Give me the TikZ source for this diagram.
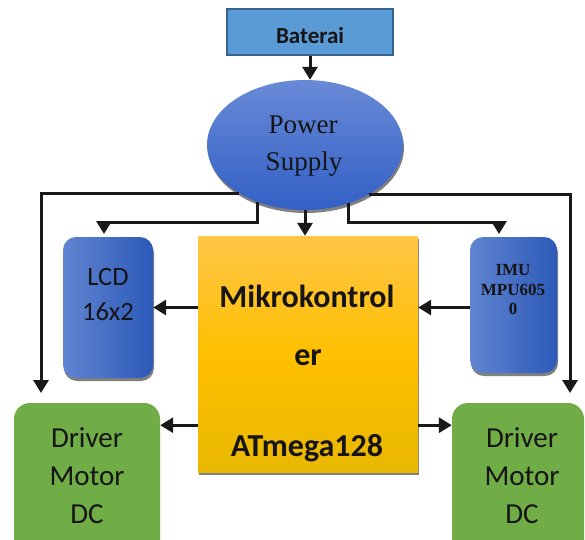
\documentclass[tikz,border=0pt]{standalone}
\usepackage{fontspec}
\setmainfont{Carlito}
\newfontfamily\timesf{Liberation Serif}
\usetikzlibrary{arrows.meta,shapes.geometric}
\definecolor{txt}{RGB}{22,20,22}
\definecolor{batfill}{RGB}{91,155,213}
\definecolor{batdraw}{RGB}{50,100,140}
\definecolor{psTop}{RGB}{105,138,215}
\definecolor{psBot}{RGB}{50,96,196}
\definecolor{bxL}{RGB}{96,132,208}
\definecolor{bxR}{RGB}{44,90,184}
\definecolor{mcTop}{RGB}{255,198,72}
\definecolor{mcMid}{RGB}{255,192,0}
\definecolor{mcBot}{RGB}{232,184,0}
\definecolor{drv}{RGB}{112,173,71}
\definecolor{shd}{RGB}{128,128,128}
\tikzset{
  shadowed/.style={preaction={fill=shd, transform canvas={xshift=1pt,yshift=-3pt}}},
  arr/.style={line width=3pt, draw=black!90, -{Triangle[length=13pt,width=15pt]}},
  lbl/.style={anchor=base, text=txt, inner sep=0pt},
  sidebox/.style={shadowed, rectangle, rounded corners=13pt, left color=bxL, right color=bxR, inner sep=0pt},
  drvbox/.style={rectangle, rounded corners=16pt, fill=drv, inner sep=0pt},
}
\begin{document}
\begin{tikzpicture}[x=1pt,y=-1pt]
\useasboundingbox (0,0) rectangle (585,539);
\clip (0,0) rectangle (585,539);
% nodes
\node[rectangle, fill=batfill, draw=batdraw, line width=1.5pt, minimum width=166pt, minimum height=46pt, inner sep=0pt] (bat) at (310,32) {};
\node[lbl, font=\bfseries\fontsize{23}{26}\selectfont] (batt) at (310,43) {Baterai};
\node[shadowed, ellipse, top color=psTop, bottom color=psBot, minimum width=196pt, minimum height=130pt, inner sep=0pt] (ps) at (305,145) {};
\node[lbl, font=\timesf\fontsize{27}{30}\selectfont] (pst1) at (303,133) {Power};
\node[lbl, font=\timesf\fontsize{27}{30}\selectfont] (pst2) at (304,170) {Supply};
\node[shadowed, rectangle, top color=mcTop, bottom color=mcBot, middle color=mcMid, minimum width=220pt, minimum height=236pt, inner sep=0pt] (mc) at (308,354) {};
\node[lbl, font=\bfseries\fontsize{32}{35}\selectfont] (mct1) at (307,307) {Mikrokontrol};
\node[lbl, font=\bfseries\fontsize{32}{35}\selectfont] (mct2) at (308,365) {er};
\node[lbl, font=\bfseries\fontsize{32}{35}\selectfont] (mct3) at (307,456) {ATmega128};
\node[sidebox, minimum width=90pt, minimum height=141pt] (lcd) at (108,307.5) {};
\node[lbl, font=\fontsize{26.5}{29}\selectfont] (lcdt1) at (108,285) {LCD};
\node[lbl, font=\fontsize{26.5}{29}\selectfont] (lcdt2) at (108,320) {16x2};
\node[sidebox, minimum width=87pt, minimum height=136pt] (imu) at (513.5,305) {};
\node[lbl, font=\timesf\bfseries\fontsize{17}{19}\selectfont] (imut1) at (513,275) {IMU};
\node[lbl, font=\timesf\bfseries\fontsize{17}{19}\selectfont] (imut2) at (513,295) {MPU605};
\node[lbl, font=\timesf\bfseries\fontsize{17}{19}\selectfont] (imut3) at (513,314) {0};
\node[drvbox, minimum width=146pt, minimum height=170pt] (drvL) at (87,488) {};
\node[lbl, font=\fontsize{29}{32}\selectfont] (dlt1) at (87,447) {Driver};
\node[lbl, font=\fontsize{29}{32}\selectfont] (dlt2) at (87,485) {Motor};
\node[lbl, font=\fontsize{29}{32}\selectfont] (dlt3) at (87,523) {DC};
\node[drvbox, minimum width=132pt, minimum height=170pt] (drvR) at (518,488) {};
\node[lbl, font=\fontsize{29}{32}\selectfont] (drt1) at (522,447) {Driver};
\node[lbl, font=\fontsize{29}{32}\selectfont] (drt2) at (522,485) {Motor};
\node[lbl, font=\fontsize{29}{32}\selectfont] (drt3) at (522,523) {DC};
% coordinates
\coordinate (lo) at (41,393);
\coordinate (ro) at (570,393);
\coordinate (lk) at (104,222);
\coordinate (li) at (104,234);
\coordinate (rk) at (499,222);
\coordinate (ri) at (499,234);
% connectors
\draw[arr] (bat.south) -- (bat.south |- ps.north);
\draw[arr] (ps.216) -| (lo);
\draw[arr] (ps.322) -| (ro);
\draw[arr] (ps.230) |- (lk) -- (li);
\draw[arr] (ps.307) |- (rk) -- (ri);
\draw[arr] (ps.south) -- (ps.south |- mc.north);
\draw[arr] (mc.west |- lcd.east) -- (lcd.east);
\draw[arr] (imu.west |- lcd.east) -- (mc.east |- lcd.east);
\draw[arr] ([yshift=47pt]mc.south west) -- ([yshift=47pt]mc.south west -| drvL.east);
\draw[arr] ([yshift=47pt]mc.south east) -- ([yshift=47pt]mc.south east -| drvR.west);
\end{tikzpicture}
\end{document}
